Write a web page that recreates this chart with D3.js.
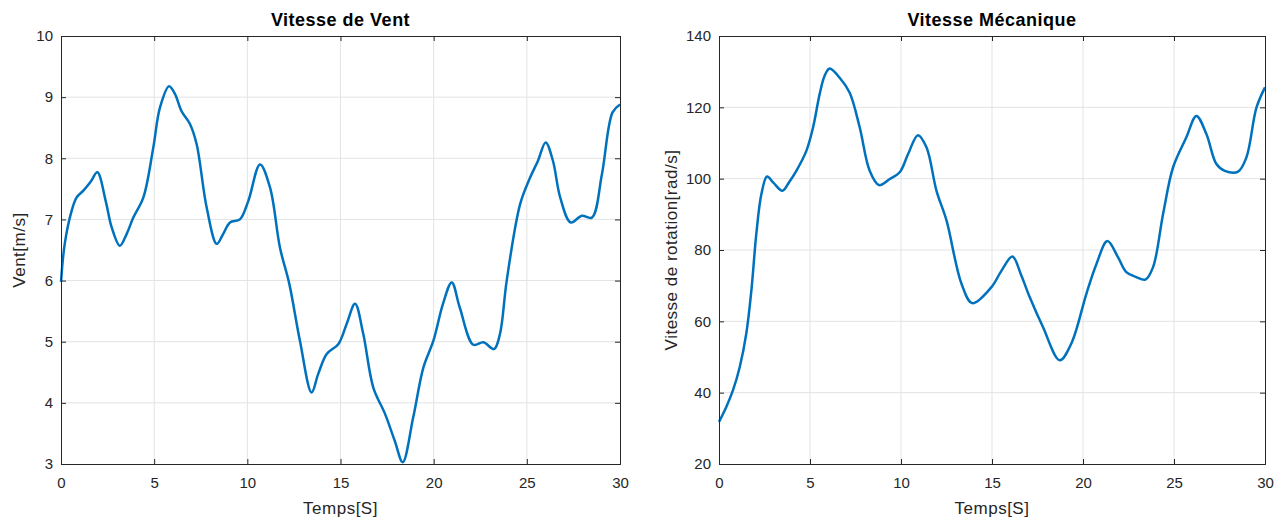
<!DOCTYPE html>
<html>
<head>
<meta charset="utf-8">
<script src="https://cdn.jsdelivr.net/npm/d3@7"></script>
<style>
    body { margin: 0; background: #fff; }
    svg { font-family: "Liberation Sans", Arial, sans-serif; }
</style>
</head>
<body>
<svg id="chart" width="1282" height="519"></svg>
<script>
// wind speed (left panel)
const ventTime = [0, 0.2, 0.57, 0.84, 1.2, 1.6, 1.95, 2.4, 2.72, 3.16, 3.52, 3.88, 4.42, 4.95, 5.31, 5.8, 6.12, 6.47, 6.92, 7.28, 7.82, 8.36, 8.7, 9.07, 9.6, 10.05, 10.68, 11.22, 11.75, 12.25, 12.82, 13.45, 13.8, 14.26, 14.88, 15.33, 15.78, 16.22, 16.76, 17.39, 17.91, 18.34, 18.9, 19.45, 19.99, 20.5, 20.97, 21.4, 22.13, 22.67, 23.24, 23.56, 23.92, 24.64, 25.17, 25.6, 26.01, 26.4, 26.79, 27.36, 27.95, 28.49, 29.03, 29.6, 30];
const ventValue = [5.98, 6.6, 7.14, 7.36, 7.47, 7.62, 7.77, 7.3, 6.87, 6.57, 6.76, 7.03, 7.36, 8.17, 8.83, 9.18, 9.05, 8.77, 8.56, 8.23, 7.19, 6.6, 6.76, 6.95, 7.0, 7.3, 7.9, 7.52, 6.54, 5.95, 5.02, 4.17, 4.47, 4.8, 4.96, 5.29, 5.62, 5.13, 4.25, 3.82, 3.38, 3.03, 3.76, 4.58, 5.02, 5.62, 5.97, 5.56, 4.95, 4.99, 4.88, 5.13, 6.0, 7.25, 7.68, 7.96, 8.26, 7.96, 7.36, 6.95, 7.06, 7.03, 7.74, 8.75, 8.88];

// mechanical speed (right panel)
const mecaTime = [0, 0.4, 0.77, 1.14, 1.5, 1.78, 2.05, 2.33, 2.64, 3.0, 3.48, 3.85, 4.25, 4.8, 5.17, 5.53, 5.8, 6.08, 6.63, 7.18, 7.73, 8.28, 8.79, 9.38, 9.93, 10.39, 10.93, 11.4, 11.95, 12.5, 13.32, 13.92, 14.97, 15.5, 16.12, 16.6, 17.07, 17.8, 18.72, 19.36, 20.19, 20.74, 21.34, 21.92, 22.38, 22.93, 23.43, 23.85, 24.4, 24.95, 25.68, 26.23, 26.78, 27.33, 27.79, 28.52, 28.98, 29.53, 30];
const mecaValue = [31.8, 36, 40.7, 47.2, 56.6, 68.7, 84.5, 95.7, 100.6, 98.8, 96.6, 99, 102.2, 107.8, 114.4, 123.7, 128.8, 130.9, 128.3, 124.1, 114.4, 102.2, 98.2, 99.9, 101.8, 106.9, 112.2, 108.8, 96.6, 88.3, 70.6, 65.1, 69.6, 74, 78.2, 73, 66.8, 58.4, 49.1, 53.8, 67.8, 76.1, 82.5, 78.0, 73.8, 72.4, 71.7, 75.2, 90.1, 103.2, 111.6, 117.6, 112.5, 104.1, 102.2, 102.0, 106.0, 119.9, 125.6];

const timeTicks = [0, 5, 10, 15, 20, 25, 30];
const ventTicks = [3, 4, 5, 6, 7, 8, 9, 10];
const mecaTicks = [20, 40, 60, 80, 100, 120, 140];

const svg = d3.select('#chart');

function drawPanel(cfg) {
    let g = svg.append('g');

    let x = d3.scaleLinear().domain([0, 30]).range([cfg.left, cfg.right]);
    let y = d3.scaleLinear().domain(cfg.yDomain).range([464, 36]);

    // grid
    g.selectAll('.vgrid').data(timeTicks.slice(1, -1)).join('line')
        .attr('x1', d => x(d)).attr('x2', d => x(d))
        .attr('y1', 36).attr('y2', 464)
        .attr('stroke', '#e3e3e3').attr('stroke-width', 1);
    g.selectAll('.hgrid').data(cfg.yTicks.slice(1, -1)).join('line')
        .attr('x1', cfg.left).attr('x2', cfg.right)
        .attr('y1', d => y(d)).attr('y2', d => y(d))
        .attr('stroke', '#e3e3e3').attr('stroke-width', 1);

    // curve
    let pts = cfg.time.map((t, i) => [t, cfg.values[i]]);
    let line = d3.line()
        .x(d => x(d[0]))
        .y(d => y(d[1]))
        .curve(d3.curveCatmullRom.alpha(0.5));
    g.append('path')
        .datum(pts)
        .attr('d', line)
        .attr('fill', 'none')
        .attr('stroke', '#0072BD')
        .attr('stroke-width', 2.5);

    // axes (ticks inside, matlab style)
    let tick = 5;
    g.append('g').attr('transform', 'translate(0,464)')
        .call(d3.axisBottom(x).tickValues(timeTicks).tickSize(-tick).tickPadding(13).tickFormat(d3.format('d')));
    g.append('g').attr('transform', 'translate(0,36)')
        .call(d3.axisTop(x).tickValues(timeTicks).tickSize(-tick).tickFormat(''));
    g.append('g').attr('transform', `translate(${cfg.left},0)`)
        .call(d3.axisLeft(y).tickValues(cfg.yTicks).tickSize(-tick).tickPadding(8).tickFormat(d3.format('d')));
    g.append('g').attr('transform', `translate(${cfg.right},0)`)
        .call(d3.axisRight(y).tickValues(cfg.yTicks).tickSize(-tick).tickFormat(''));

    g.selectAll('.domain').attr('stroke', '#262626').attr('stroke-width', 1);
    g.selectAll('.tick line').attr('stroke', '#262626');
    g.selectAll('.tick text').attr('fill', '#262626').style('font-size', '15px');

    // title and labels
    g.append('text')
        .attr('x', (cfg.left + cfg.right) / 2).attr('y', 26)
        .attr('text-anchor', 'middle')
        .style('font-size', '18px').style('font-weight', 'bold')
        .style('letter-spacing', '0.5px')
        .text(cfg.title);
    g.append('text')
        .attr('x', (cfg.left + cfg.right) / 2).attr('y', 514)
        .attr('text-anchor', 'middle')
        .attr('fill', '#262626')
        .style('font-size', '17px').style('letter-spacing', '0.5px')
        .text('Temps[S]');
    g.append('text')
        .attr('transform', `translate(${cfg.labelX},250) rotate(-90)`)
        .attr('text-anchor', 'middle')
        .attr('fill', '#262626')
        .style('font-size', '17px').style('letter-spacing', '0.5px')
        .text(cfg.yLabel);
}

drawPanel({
    left: 61, right: 620, yDomain: [3, 10], yTicks: ventTicks,
    time: ventTime, values: ventValue,
    title: 'Vitesse de Vent', yLabel: 'Vent[m/s]', labelX: 25
});
drawPanel({
    left: 719, right: 1265, yDomain: [20, 140], yTicks: mecaTicks,
    time: mecaTime, values: mecaValue,
    title: 'Vitesse Mécanique', yLabel: 'Vitesse de rotation[rad/s]', labelX: 677
});
</script>
</body>
</html>
